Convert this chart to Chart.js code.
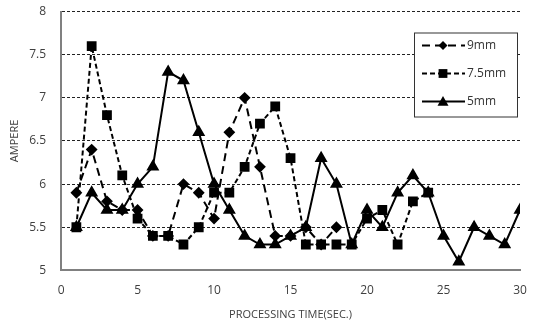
<!DOCTYPE html>
<html>
<head>
<meta charset="utf-8">
<script src="https://cdn.jsdelivr.net/npm/chart.js@4.4.0/dist/chart.umd.min.js"></script>
<style>
  body { margin: 0; background: #fff; }
  #wrap { width: 535px; height: 321px; }
</style>
</head>
<body>
<div id="wrap"><canvas id="chart" width="535" height="321"></canvas></div>
<script>
const times = [1, 2, 3, 4, 5, 6, 7, 8, 9, 10, 11, 12, 13, 14, 15, 16, 17, 18, 19, 20, 21, 22, 23, 24, 25, 26, 27, 28, 29, 30];
const mm9 = [5.9, 6.4, 5.8, 5.7, 5.7, 5.4, 5.4, 6.0, 5.9, 5.6, 6.6, 7.0, 6.2, 5.4, 5.4, 5.5, 5.3, 5.5];
const mm75 = [5.5, 7.6, 6.8, 6.1, 5.6, 5.4, 5.4, 5.3, 5.5, 5.9, 5.9, 6.2, 6.7, 6.9, 6.3, 5.3, 5.3, 5.3, 5.3, 5.6, 5.7, 5.3, 5.8, 5.9];
const mm5 = [5.5, 5.9, 5.7, 5.7, 6.0, 6.2, 7.3, 7.2, 6.6, 6.0, 5.7, 5.4, 5.3, 5.3, 5.4, 5.5, 6.3, 6.0, 5.3, 5.7, 5.5, 5.9, 6.1, 5.9, 5.4, 5.1, 5.5, 5.4, 5.3, 5.7];
const xTicks = [0, 5, 10, 15, 20, 25, 30];
const yTicks = [5, 5.5, 6, 6.5, 7, 7.5, 8];

function points(vals) {
  return vals.map((v, i) => ({ x: times[i], y: v }));
}

const family = "'Open Sans', 'Noto Sans', sans-serif";
const tickFont = { family: family, size: 12 };
const titleFont = { family: family, size: 11 };

function drawMarker(ctx, style, x, y, r) {
  ctx.beginPath();
  if (style === "rectRot") {
    ctx.moveTo(x, y - r); ctx.lineTo(x + r, y); ctx.lineTo(x, y + r); ctx.lineTo(x - r, y);
  } else if (style === "rect") {
    ctx.rect(x - r * 0.8, y - r * 0.8, r * 1.6, r * 1.6);
  } else {
    ctx.moveTo(x, y - r); ctx.lineTo(x + r, y + r * 0.75); ctx.lineTo(x - r, y + r * 0.75);
  }
  ctx.closePath();
  ctx.fill();
}

// legend box sits inside the plot, top right
const boxLegend = {
  id: "boxLegend",
  afterDraw(chart) {
    const ctx = chart.ctx;
    const a = chart.chartArea;
    const left = a.right - 106, top = a.top + 21, w = 103, h = 84;
    ctx.save();
    ctx.fillStyle = "#fff";
    ctx.fillRect(left, top, w, h);
    ctx.strokeStyle = "#333";
    ctx.lineWidth = 1;
    ctx.strokeRect(left + 0.5, top + 0.5, w, h);
    chart.data.datasets.forEach((ds, i) => {
      const y = top + 13 + i * 28;
      ctx.strokeStyle = "#000";
      ctx.lineWidth = 2;
      ctx.setLineDash(ds.borderDash || []);
      ctx.beginPath();
      ctx.moveTo(left + 8, y);
      ctx.lineTo(left + 51, y);
      ctx.stroke();
      ctx.setLineDash([]);
      ctx.fillStyle = "#000";
      drawMarker(ctx, ds.pointStyle, left + 29, y, ds.pointRadius);
      ctx.fillStyle = "#333";
      ctx.font = "12px " + family;
      ctx.textBaseline = "middle";
      ctx.fillText(ds.label, left + 53, y);
    });
    ctx.restore();
  }
};

new Chart(document.getElementById("chart"), {
  type: "line",
  data: {
    datasets: [
      { label: "9mm", data: points(mm9), borderColor: "#000", backgroundColor: "#000", borderWidth: 2,
        borderDash: [8, 5], pointStyle: "rectRot", pointRadius: 4.5, tension: 0 },
      { label: "7.5mm", data: points(mm75), borderColor: "#000", backgroundColor: "#000", borderWidth: 2,
        borderDash: [5, 3], pointStyle: "rect", pointRadius: 5.5, tension: 0 },
      { label: "5mm", data: points(mm5), borderColor: "#000", backgroundColor: "#000", borderWidth: 2,
        pointStyle: "triangle", pointRadius: 5.5, tension: 0 }
    ]
  },
  options: {
    responsive: false,
    animation: false,
    layout: { padding: { left: 8, right: 15, top: 4, bottom: 0 } },
    plugins: { legend: { display: false }, tooltip: { enabled: false } },
    scales: {
      x: {
        type: "linear", min: 0, max: 30,
        afterBuildTicks: s => { s.ticks = xTicks.map(v => ({ value: v })); },
        afterFit: s => { s.paddingLeft = 0; s.paddingRight = 0; },
        grid: { display: false, drawTicks: false },
        border: { color: "#808080", width: 2 },
        ticks: { color: "#404040", font: tickFont, padding: 13, maxRotation: 0 },
        title: { display: true, text: "PROCESSING TIME(SEC.)", color: "#404040", font: titleFont, padding: { top: -3, bottom: 0 } }
      },
      y: {
        min: 5, max: 8,
        afterBuildTicks: s => { s.ticks = yTicks.map(v => ({ value: v })); },
        afterFit: s => { s.paddingTop = 11.5; s.paddingBottom = 0; },
        grid: { color: "#222", lineWidth: 1, drawTicks: false },
        border: { color: "#808080", width: 2, dash: [3, 2] },
        ticks: { color: "#404040", font: tickFont, padding: 15, callback: v => String(v) },
        title: { display: true, text: "AMPERE", color: "#404040", font: titleFont, padding: { top: 0, bottom: -7 } }
      }
    }
  },
  plugins: [boxLegend]
});
</script>
</body>
</html>
